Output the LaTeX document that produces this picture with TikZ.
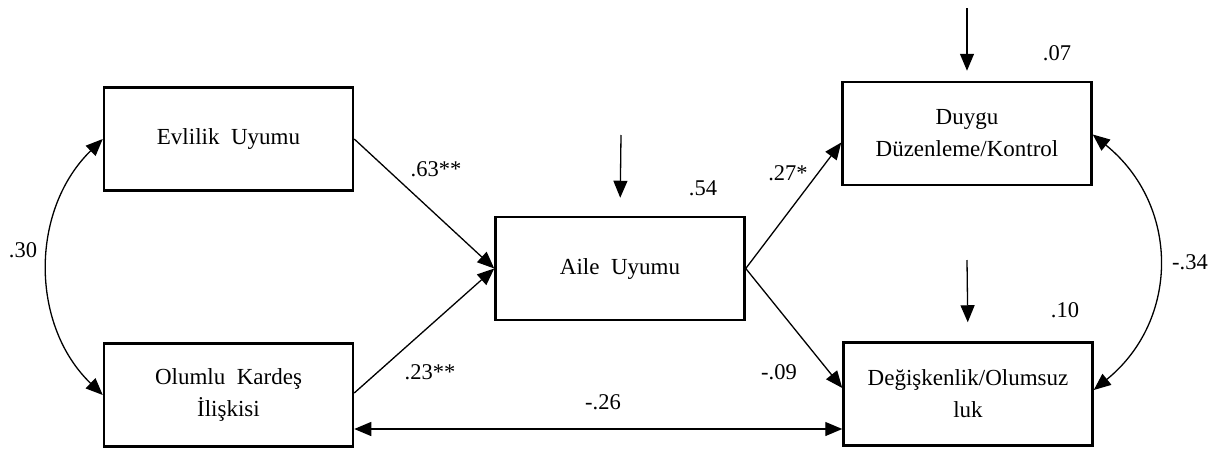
\documentclass[tikz,border=0pt]{standalone}
\usepackage{fontspec}
\setmainfont{Liberation Serif}
\usetikzlibrary{arrows.meta}
\begin{document}
\begin{tikzpicture}[x=1pt,y=-1pt,
  box/.style={draw, line width=2.5pt, minimum width=249pt, minimum height=103pt, inner sep=0pt, align=center, font=\fontsize{23}{32}\selectfont},
  lbl/.style={font=\fontsize{22.5}{26}\selectfont, inner sep=0pt},
  arr/.style={line width=1.3pt, -{Triangle[length=17pt,width=14pt]}},
  darr/.style={line width=1.3pt, {Triangle[length=17pt,width=14pt]}-{Triangle[length=17pt,width=14pt]}}]
\useasboundingbox (0,0) rectangle (1219,450);
\node[box] (evl) at (228.5,139) {Evlilik\ \ Uyumu};
\node[box] (olu) at (228.5,395) {Olumlu\ \ Kardeş\\İlişkisi};
\node[box] (aile) at (620,268.5) {Aile\ \ Uyumu};
\node[box] (duy) at (967,133.5) {Duygu\\Düzenleme/Kontrol};
\node[box] (deg) at (968,394) {Değişkenlik/Olumsuz\\luk};
\coordinate (e1) at (621,135);
\coordinate (e2) at (967,8);
\coordinate (e3) at (967,260);
\draw[arr, shorten >=18pt] (e1) -- (aile.north);
\draw[arr, shorten >=10pt] (e2) -- (duy.north);
\draw[arr, shorten >=19pt] (e3) -- (deg.north);
\draw[arr] (evl.east) -- (aile.west);
\draw[arr] ([yshift=2pt]olu.east) -- (aile.west);
\draw[arr] (aile.east) -- ([yshift=-9pt]duy.west);
\draw[arr] (aile.east) -- ([yshift=6pt]deg.west);
\draw[darr] ([yshift=-34pt]olu.east) -- ([yshift=-35pt]deg.west);
\draw[darr] (evl.west) .. controls (30,210) and (30,325) .. (olu.west);
\draw[darr] ([yshift=-1pt]duy.east) .. controls (1180,205) and (1180,320) .. ([yshift=4pt]deg.east);
\node[lbl] (l30) at (23,250) {.30};
\node[lbl] (l63) at (436,169) {.63**};
\node[lbl] (l54) at (703,188) {.54};
\node[lbl] (l27) at (788,173) {.27*};
\node[lbl] (l23) at (430,372) {.23**};
\node[lbl] (l09) at (779,372) {-.09};
\node[lbl] (l26) at (603,402) {-.26};
\node[lbl] (l07) at (1057,53) {.07};
\node[lbl] (l10) at (1065,310) {.10};
\node[lbl] (l34) at (1190,262) {-.34};
\end{tikzpicture}
\end{document}
